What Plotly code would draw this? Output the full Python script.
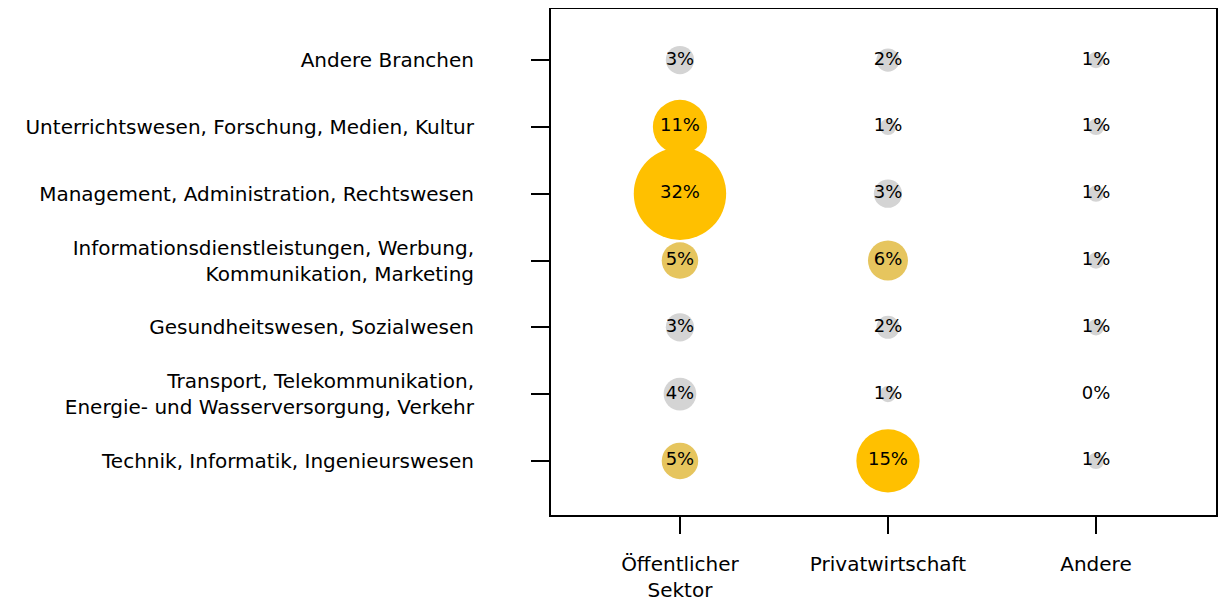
import plotly.graph_objects as go

# Branchen (unten nach oben) und Arbeitgeber
branchen = [
    "Technik, Informatik, Ingenieurswesen",
    "Transport, Telekommunikation,<br>Energie- und Wasserversorgung, Verkehr",
    "Gesundheitswesen, Sozialwesen",
    "Informationsdienstleistungen, Werbung,<br>Kommunikation, Marketing",
    "Management, Administration, Rechtswesen",
    "Unterrichtswesen, Forschung, Medien, Kultur",
    "Andere Branchen",
]
sektoren = ["Öffentlicher<br>Sektor", "Privatwirtschaft", "Andere"]

oeffentlich = [5, 4, 3, 5, 32, 11, 3]
privat = [15, 1, 2, 6, 3, 1, 2]
andere = [1, 0, 1, 1, 1, 1, 1]

werte = [oeffentlich, privat, andere]


def farbe(v):
    if v >= 10:
        return "#FFC000"
    if v >= 5:
        return "#E6C55E"
    return "#D4D4D4"


xs, ys, vals = [], [], []
for s, col in zip(sektoren, werte):
    for b, v in zip(branchen, col):
        xs.append(s)
        ys.append(b)
        vals.append(v)

fig = go.Figure()
fig.add_trace(go.Scatter(
    x=xs, y=ys,
    mode="markers+text",
    text=[f"{v}%" for v in vals],
    textposition="middle center",
    textfont=dict(size=18, color="black"),
    marker=dict(size=vals, sizemode="area", sizeref=0.0075,
                color=[farbe(v) for v in vals], line=dict(width=0), opacity=1),
    hoverinfo="skip",
))

# Seite hat 8px Rand (body margin) -> Figur etwas kleiner, sonst Scrollbalken
font = "DejaVu Sans"
fig.update_layout(
    width=1218, height=594,
    margin=dict(l=543, r=10, t=1, b=87),
    paper_bgcolor="white", plot_bgcolor="white",
    font=dict(family=font, size=20, color="black"),
    showlegend=False,
    xaxis=dict(type="category", categoryorder="array", categoryarray=sektoren,
               range=[-0.62, 2.577], showgrid=False, zeroline=False, automargin=False,
               showline=True, linecolor="black", linewidth=2, mirror=True,
               ticks="outside", ticklen=17, tickwidth=2, tickcolor="black",
               ticklabelstandoff=13),
    yaxis=dict(type="category", categoryorder="array", categoryarray=branchen,
               range=[-0.81, 6.765], showgrid=False, zeroline=False, automargin=False,
               showline=True, linecolor="black", linewidth=2, mirror=True,
               ticks="outside", ticklen=18, tickwidth=2, tickcolor="black",
               ticklabelstandoff=53),
)

fig.write_html("out.html")
